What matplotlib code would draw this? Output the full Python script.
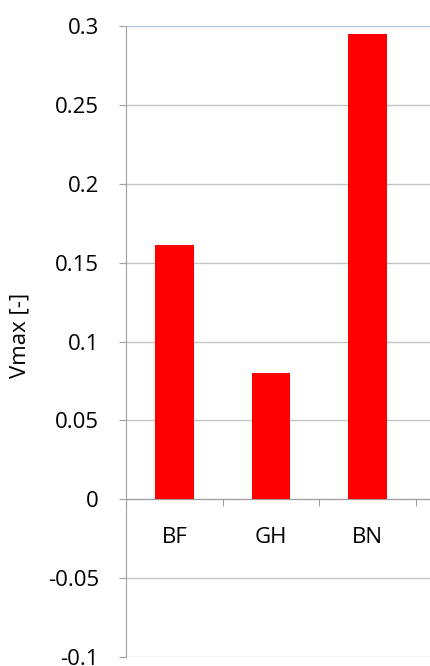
import matplotlib.pyplot as plt
import numpy as np

categories = ["BF", "GH", "BN"]
vmax = [0.161, 0.080, 0.295]
y_ticks = [-0.1, -0.05, 0, 0.05, 0.1, 0.15, 0.2, 0.25, 0.3]
y_labels = ["-0.1", "-0.05", "0", "0.05", "0.1", "0.15", "0.2", "0.25", "0.3"]

plt.rcParams['font.family'] = ['Open Sans', 'DejaVu Sans']
FS = 16

fig = plt.figure(figsize=(4.30, 6.66), dpi=100)
ax = fig.add_axes([126 / 430, 1 - 657 / 666, (430 - 126) / 430, (657 - 26) / 666])

x = np.arange(len(categories))
ax.bar(x, vmax, width=0.4, color="#FF0000", zorder=3)

ax.set_ylim(-0.1, 0.3)
ax.set_xlim(-0.5, 2.645)
ax.set_yticks(y_ticks)
ax.set_yticklabels(y_labels, fontsize=FS)
for y in y_ticks:
    c = "#B9C7DE" if y in (-0.1, 0.3) else "#C4C4C4"
    ax.axhline(y, color=c, lw=1, zorder=1)

# category axis at zero
ax.spines['bottom'].set_position(('data', 0))
ax.spines['bottom'].set_color("#A0A0A0")
ax.spines['left'].set_color("#A0A0A0")
ax.spines['top'].set_visible(False)
ax.spines['right'].set_visible(False)
ax.set_xticks([-0.5, 0.5, 1.5, 2.5])
ax.set_xticklabels([])
ax.tick_params(axis='x', which='major', direction='out', length=5, color="#A0A0A0")
ax.set_xticks(x, minor=True)
ax.set_xticklabels(categories, minor=True, fontsize=FS)
ax.tick_params(axis='x', which='minor', length=0, pad=20)
ax.tick_params(axis='y', direction='out', length=5, color="#A0A0A0", pad=14.5)

ax.set_ylabel("Vmax [-]", fontsize=FS)
ax.yaxis.set_label_coords(-0.3125, 0.509)

fig.savefig("out.png", dpi=100)
